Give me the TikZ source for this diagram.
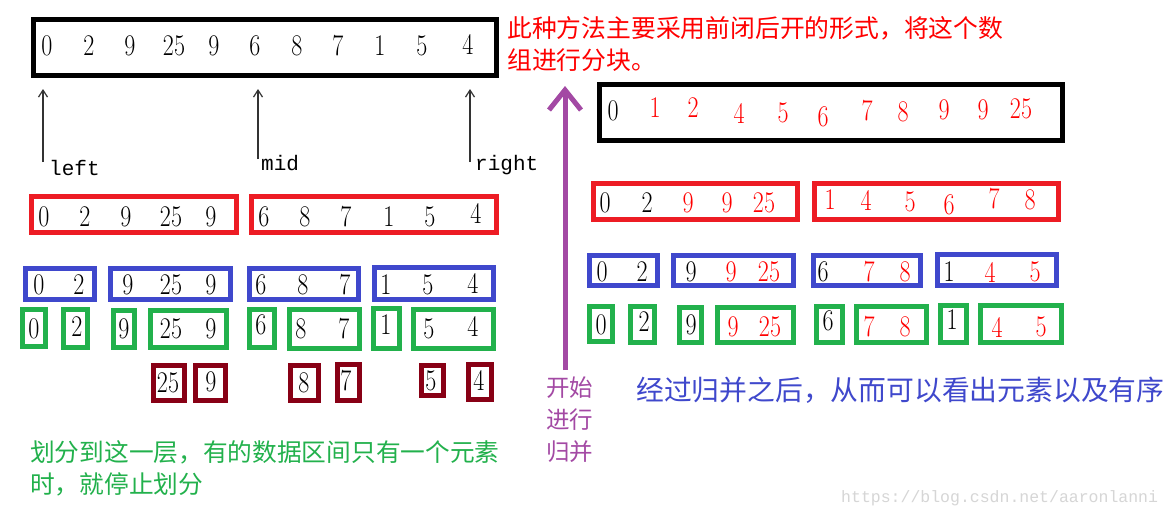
\documentclass[tikz,border=0pt]{standalone}
\usepackage{fontspec}
\usepackage{graphicx}
\usetikzlibrary{arrows.meta}
\newfontfamily\cjk{Noto Sans CJK SC}
\newfontfamily\monof{Liberation Mono}
\definecolor{bred}{HTML}{ED1C24}
\definecolor{bblue}{HTML}{3F48CC}
\definecolor{bgreen}{HTML}{22B14C}
\definecolor{bdark}{HTML}{880015}
\definecolor{tpurple}{HTML}{A349A4}
\definecolor{wmgray}{HTML}{D6D6D6}
\definecolor{txtred}{HTML}{FF0000}
\definecolor{txtblue}{HTML}{3F48CC}
\newcommand\dg[1]{\scalebox{0.8}[1]{#1}}
\newcommand\abox[6]{\node[bx=#2, minimum width={#5-#3-5}, minimum height={#6-#4-5}] (#1) at ({(#3+#5)/2},{(#4+#6)/2}) {};}
\tikzset{
  bx/.style={draw=#1, line width=5pt, inner sep=0pt},
  dig/.style={inner sep=0pt, font=\fontsize{30}{30}\selectfont},
  ptr/.style={draw=black!80, line width=1.2pt, -{Straight Barb[length=7pt,width=9pt]}},
  lbl/.style={inner sep=0pt, anchor=base west, font=\monof\fontsize{21}{21}\selectfont},
  bigarrow/.style={draw=tpurple, line width=5pt, -{Straight Barb[length=20pt,width=32pt]}},
}
\begin{document}
\begin{tikzpicture}[x=1pt,y=-1pt]
\useasboundingbox (0,0) rectangle (1172,519);
\fill[white] (0,0) rectangle (1172,519);

% ---- boxes ----
\abox{A}{black}{31}{17}{499}{78}
\abox{B}{black}{597}{82}{1065}{143}
\abox{C1}{bred}{29}{194}{239}{235}
\abox{C2}{bred}{249}{194}{499}{235}
\abox{D1}{bred}{591}{181}{800}{222}
\abox{D2}{bred}{812}{181}{1061}{222}
\abox{E1}{bblue}{23}{266}{97}{302}
\abox{E2}{bblue}{108}{266}{233}{302}
\abox{E3}{bblue}{247}{266}{361}{302}
\abox{E4}{bblue}{372}{265}{496}{302}
\abox{F1}{bblue}{587}{253}{660}{288}
\abox{F2}{bblue}{671}{253}{796}{288}
\abox{F3}{bblue}{811}{253}{923}{288}
\abox{F4}{bblue}{935}{252}{1059}{288}
\abox{G1}{bgreen}{20}{307}{48}{349}
\abox{G2}{bgreen}{61}{307}{90}{350}
\abox{G3}{bgreen}{111}{308}{137}{350}
\abox{G4}{bgreen}{148}{308}{229}{350}
\abox{G5}{bgreen}{247}{307}{277}{350}
\abox{G6}{bgreen}{287}{307}{362}{351}
\abox{G7}{bgreen}{371}{306}{402}{351}
\abox{G8}{bgreen}{411}{307}{496}{351}
\abox{H1}{bgreen}{587}{304}{615}{344}
\abox{H2}{bgreen}{628}{304}{657}{345}
\abox{H3}{bgreen}{677}{305}{704}{345}
\abox{H4}{bgreen}{715}{305}{796}{345}
\abox{H5}{bgreen}{814}{304}{845}{345}
\abox{H6}{bgreen}{854}{304}{929}{345}
\abox{H7}{bgreen}{938}{303}{969}{345}
\abox{H8}{bgreen}{978}{303}{1064}{345}
\abox{K1}{bdark}{151}{363}{187}{403}
\abox{K2}{bdark}{193}{363}{228}{403}
\abox{K3}{bdark}{288}{363}{321}{403}
\abox{K4}{bdark}{335}{362}{362}{403}
\abox{K5}{bdark}{419}{363}{446}{398}
\abox{K6}{bdark}{466}{362}{494}{402}

% ---- digits ----
\foreach \x/\y/\c/\t [count=\i] in {47/46/black/0, 89/46/black/2, 130/46/black/9, 174/46/black/25, 214/46/black/9, 255/46/black/6, 297/46/black/8, 338/46/black/7, 380/46/black/1, 422/46/black/5, 468/44/black/4}
  {\node[dig,text=\c] (a\i) at (\x,\y) {\dg{\t}};}
\foreach \x/\y/\c/\t [count=\i] in {613/111/black/0, 655/108/txtred/1, 693/108/txtred/2, 739/113/txtred/4, 783/113/txtred/5, 823/117/txtred/6, 867/111/txtred/7, 903/112/txtred/8, 944/110/txtred/9, 983/110/txtred/9, 1021/109/txtred/25}
  {\node[dig,text=\c] (b\i) at (\x,\y) {\dg{\t}};}
\foreach \x/\y/\c/\t [count=\i] in {44/217/black/0, 85/217/black/2, 126/217/black/9, 171/217/black/25, 211/217/black/9, 264/217/black/6, 305/217/black/8, 346/217/black/7, 389/217/black/1, 430/217/black/5, 476/213/black/4}
  {\node[dig,text=\c] (c\i) at (\x,\y) {\dg{\t}};}
\foreach \x/\y/\c/\t [count=\i] in {605/203/black/0, 647/203/black/2, 688/203/txtred/9, 727/203/txtred/9, 764/203/txtred/25, 830/200/txtred/1, 866/200/txtred/4, 910/202/txtred/5, 949/205/txtred/6, 994/199/txtred/7, 1030/200/txtred/8}
  {\node[dig,text=\c] (d\i) at (\x,\y) {\dg{\t}};}
\foreach \x/\y/\c/\t [count=\i] in {39/285/black/0, 79/285/black/2, 128/285/black/9, 171/285/black/25, 211/285/black/9, 261/285/black/6, 303/285/black/8, 345/285/black/7, 386/285/black/1, 428/285/black/5, 473/283/black/4}
  {\node[dig,text=\c] (e\i) at (\x,\y) {\dg{\t}};}
\foreach \x/\y/\c/\t [count=\i] in {602/272/black/0, 642/272/black/2, 691/272/black/9, 731/272/txtred/9, 769/272/txtred/25, 823/272/black/6, 869/272/txtred/7, 905/272/txtred/8, 949/272/black/1, 990/272/txtred/4, 1035/272/txtred/5}
  {\node[dig,text=\c] (f\i) at (\x,\y) {\dg{\t}};}
\foreach \x/\y/\c/\t [count=\i] in {34/329/black/0, 77/327/black/2, 124/329/black/9, 171/329/black/25, 211/329/black/9, 261/325/black/6, 301/329/black/8, 344/329/black/7, 386/325/black/1, 429/329/black/5, 473/326/black/4}
  {\node[dig,text=\c] (g\i) at (\x,\y) {\dg{\t}};}
\foreach \x/\y/\c/\t [count=\i] in {601/325/black/0, 644/322/black/2, 691/325/black/9, 733/327/txtred/9, 770/327/txtred/25, 828/321/black/6, 869/327/txtred/7, 905/327/txtred/8, 952/320/black/1, 997/327/txtred/4, 1041/327/txtred/5}
  {\node[dig,text=\c] (h\i) at (\x,\y) {\dg{\t}};}
\foreach \x/\y/\c/\t [count=\i] in {168/383/black/25, 211/382/black/9, 304/383/black/8, 346/381/black/7, 431/381/black/5, 479/380/black/4}
  {\node[dig,text=\c] (k\i) at (\x,\y) {\dg{\t}};}

% ---- pointers ----
\node[lbl] (lleft) at (49,175) {left};
\node[lbl] (lmid) at (261,170) {mid};
\node[lbl] (lright) at (475,170) {right};
\coordinate (pl0) at (43,162); \coordinate (pl1) at (43,89);
\coordinate (pm0) at (258,159); \coordinate (pm1) at (258,89);
\coordinate (pr0) at (470,162); \coordinate (pr1) at (470,89);
\draw[ptr] (pl0) -- (pl1);
\draw[ptr] (pm0) -- (pm1);
\draw[ptr] (pr0) -- (pr1);

% ---- merge arrow ----
\coordinate (mg0) at (565,370); \coordinate (mg1) at (565,86);
\draw[bigarrow] (mg0) -- (mg1);

% ---- texts ----
\node[anchor=west, align=left, inner sep=0pt, text=txtred, font=\cjk\fontsize{24.8}{32}\selectfont] (note) at (507,44) {此种方法主要采用前闭后开的形式，将这个数\\组进行分块。};
\node[anchor=west, align=left, inner sep=0pt, text=bgreen, font=\cjk\fontsize{24.7}{32}\selectfont] (gnote) at (30,468) {划分到这一层，有的数据区间只有一个元素\\时，就停止划分};
\node[anchor=west, align=left, inner sep=0pt, text=tpurple, font=\cjk\fontsize{23.5}{32}\selectfont] (pnote) at (546,420) {开始\\进行\\归并};
\node[anchor=west, inner sep=0pt, text=txtblue, font=\cjk\fontsize{27.8}{32}\selectfont] (bnote) at (636,390) {经过归并之后，从而可以看出元素以及有序};
\node[anchor=west, inner sep=0pt, text=wmgray, font=\monof\fontsize{16.5}{16.5}\selectfont] (wm) at (841,498) {https://blog.csdn.net/aaronlanni};
\end{tikzpicture}
\end{document}
